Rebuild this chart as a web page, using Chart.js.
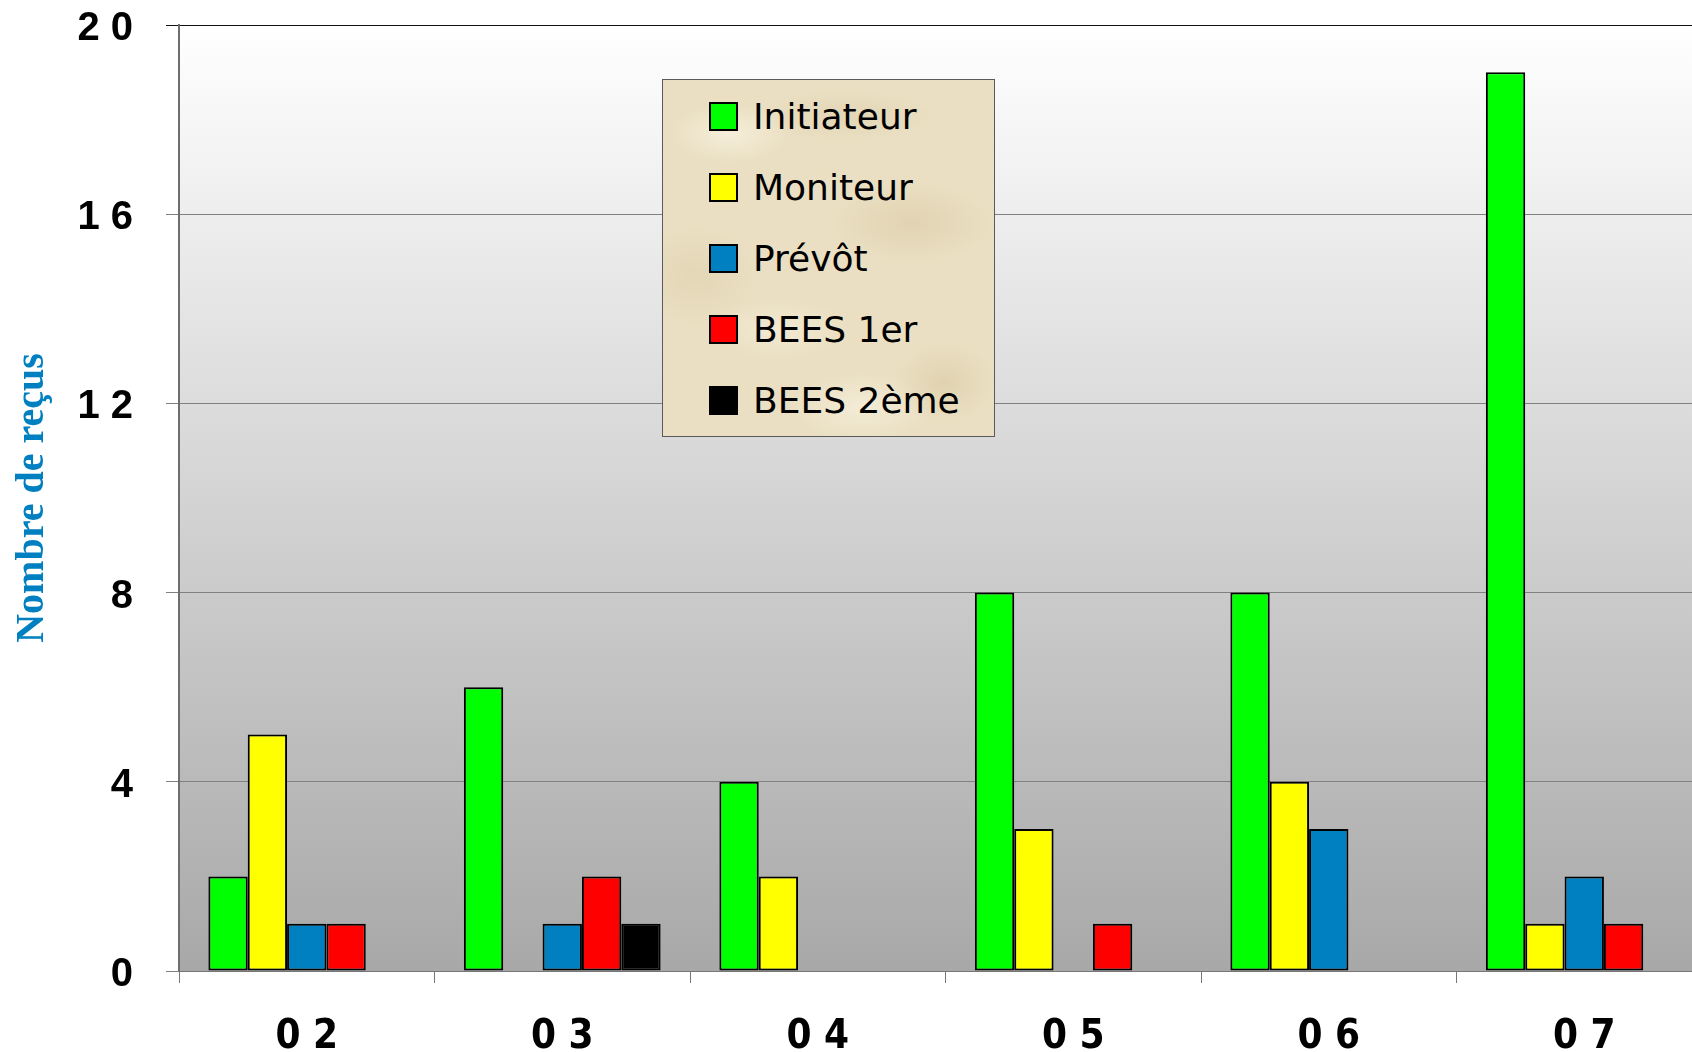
<!DOCTYPE html>
<html>
<head>
<meta charset="utf-8">
<script src="https://cdn.jsdelivr.net/npm/chart.js@4.4.1/dist/chart.umd.min.js"></script>
<style>
  html, body { margin: 0; padding: 0; background: #fff; overflow: hidden; }
  #wrap { position: relative; width: 1720px; height: 1052px; }
  #legend {
    position: absolute; left: 662px; top: 79px; width: 331px; height: 356px;
    border: 1px solid #5a5a5a;
    background-color: #eadfc2;
    background-image:
      radial-gradient(ellipse 60px 30px at 20% 15%, rgba(250,244,228,0.7), transparent),
      radial-gradient(ellipse 80px 40px at 75% 40%, rgba(214,196,158,0.45), transparent),
      radial-gradient(ellipse 70px 30px at 35% 70%, rgba(248,240,220,0.6), transparent),
      radial-gradient(ellipse 50px 40px at 85% 85%, rgba(210,192,150,0.4), transparent),
      radial-gradient(ellipse 90px 25px at 55% 10%, rgba(216,200,164,0.4), transparent),
      radial-gradient(ellipse 60px 50px at 10% 55%, rgba(220,204,168,0.45), transparent),
      radial-gradient(ellipse 70px 35px at 60% 92%, rgba(250,244,228,0.6), transparent);
  }
  .item { position: absolute; left: 46px; height: 40px; display: flex; align-items: center; }
  .sw { width: 25px; height: 25px; border: 2px solid #000; margin-right: 15px; }
  .lbl { font-family: "DejaVu Sans", sans-serif; font-size: 36px; color: #000; white-space: nowrap; }
</style>
</head>
<body>
<div id="wrap">
  <canvas id="chart" width="1720" height="1052"></canvas>
  <div id="legend"></div>
</div>
<script>
var categories = ['02', '03', '04', '05', '06', '07'];
var initiateur = [2, 6, 4, 8, 8, 19];
var moniteur   = [5, 0, 2, 3, 4, 1];
var prevot     = [1, 1, 0, 0, 3, 2];
var bees1er    = [1, 2, 0, 1, 0, 1];
var bees2eme   = [0, 1, 0, 0, 0, 0];
var seriesNames  = ['Initiateur', 'Moniteur', 'Prévôt', 'BEES 1er', 'BEES 2ème'];
var seriesColors = ['#00ff00', '#ffff00', '#0080c0', '#ff0000', '#000000'];
var yTicks = [0, 4, 8, 12, 16, 20];

function spaced(s) { return String(s).split('').join(' '); }

var plotBackground = {
    id: 'plotBackground',
    beforeDraw: function (chart) {
        var c = chart.ctx, a = chart.chartArea;
        c.save();
        c.fillStyle = '#ffffff';
        c.fillRect(0, 0, chart.width, chart.height);
        var g = c.createLinearGradient(0, a.top, 0, a.bottom);
        g.addColorStop(0, '#ffffff');
        g.addColorStop(1, '#a8a8a8');
        c.fillStyle = g;
        c.fillRect(a.left, a.top, a.right - a.left, a.bottom - a.top);
        c.restore();
    }
};

var allSeries = [initiateur, moniteur, prevot, bees1er, bees2eme];
var datasets = allSeries.map(function (d, i) {
    return {
        label: seriesNames[i],
        data: d,
        backgroundColor: seriesColors[i],
        borderColor: '#000000',
        borderWidth: 2,
        borderSkipped: false,
        categoryPercentage: 0.77,
        barPercentage: 1.0
    };
});

var ctx = document.getElementById('chart').getContext('2d');
var chart = new Chart(ctx, {
    type: 'bar',
    data: { labels: categories, datasets: datasets },
    plugins: [plotBackground],
    options: {
        responsive: false,
        animation: false,
        layout: { padding: { left: 0, top: 25, right: 8, bottom: 0 } },
        plugins: { legend: { display: false }, tooltip: { enabled: false } },
        scales: {
            x: {
                afterFit: function (s) { s.height = 81; s.paddingLeft = 0; s.paddingRight = 0; },
                grid: { offset: true, drawOnChartArea: false, tickLength: 12, color: '#777777' },
                border: { color: '#777777', width: 1 },
                ticks: {
                    padding: 31,
                    color: '#000',
                    font: { family: '"Liberation Sans Narrow", "DejaVu Sans Condensed", Arial, sans-serif', size: 40, weight: 'bold' },
                    callback: function (v, i) { return spaced(categories[i]); }
                }
            },
            y: {
                min: 0,
                max: 20,
                afterFit: function (s) { s.width = 179; s.paddingTop = 0; s.paddingBottom = 0; },
                afterBuildTicks: function (s) { s.ticks = yTicks.map(function (v) { return { value: v }; }); },
                grid: {
                    tickLength: 13,
                    color: function (c) { return c.tick && c.tick.value === 20 ? '#111111' : '#808080'; }
                },
                border: { color: '#6e6e6e', width: 2 },
                ticks: {
                    padding: 33,
                    labelOffset: 4,
                    color: '#000',
                    font: { family: 'Arial, "Liberation Sans", sans-serif', size: 40, weight: 'bold' },
                    callback: function (v) { return spaced(v); }
                },
                title: {
                    display: true,
                    text: 'Nombre de reçus',
                    color: '#0080c0',
                    padding: { top: 9, bottom: 0 },
                    font: { family: '"Liberation Serif", "Times New Roman", serif', size: 40, weight: 'bold' }
                }
            }
        }
    }
});

// legend box, built from the chart's datasets
var legend = document.getElementById('legend');
chart.data.datasets.forEach(function (ds, i) {
    var item = document.createElement('div');
    item.className = 'item';
    item.style.top = (16 + i * 71) + 'px';
    var sw = document.createElement('div');
    sw.className = 'sw';
    sw.style.background = ds.backgroundColor;
    var lbl = document.createElement('span');
    lbl.className = 'lbl';
    lbl.textContent = ds.label;
    item.appendChild(sw);
    item.appendChild(lbl);
    legend.appendChild(item);
});
</script>
</body>
</html>
